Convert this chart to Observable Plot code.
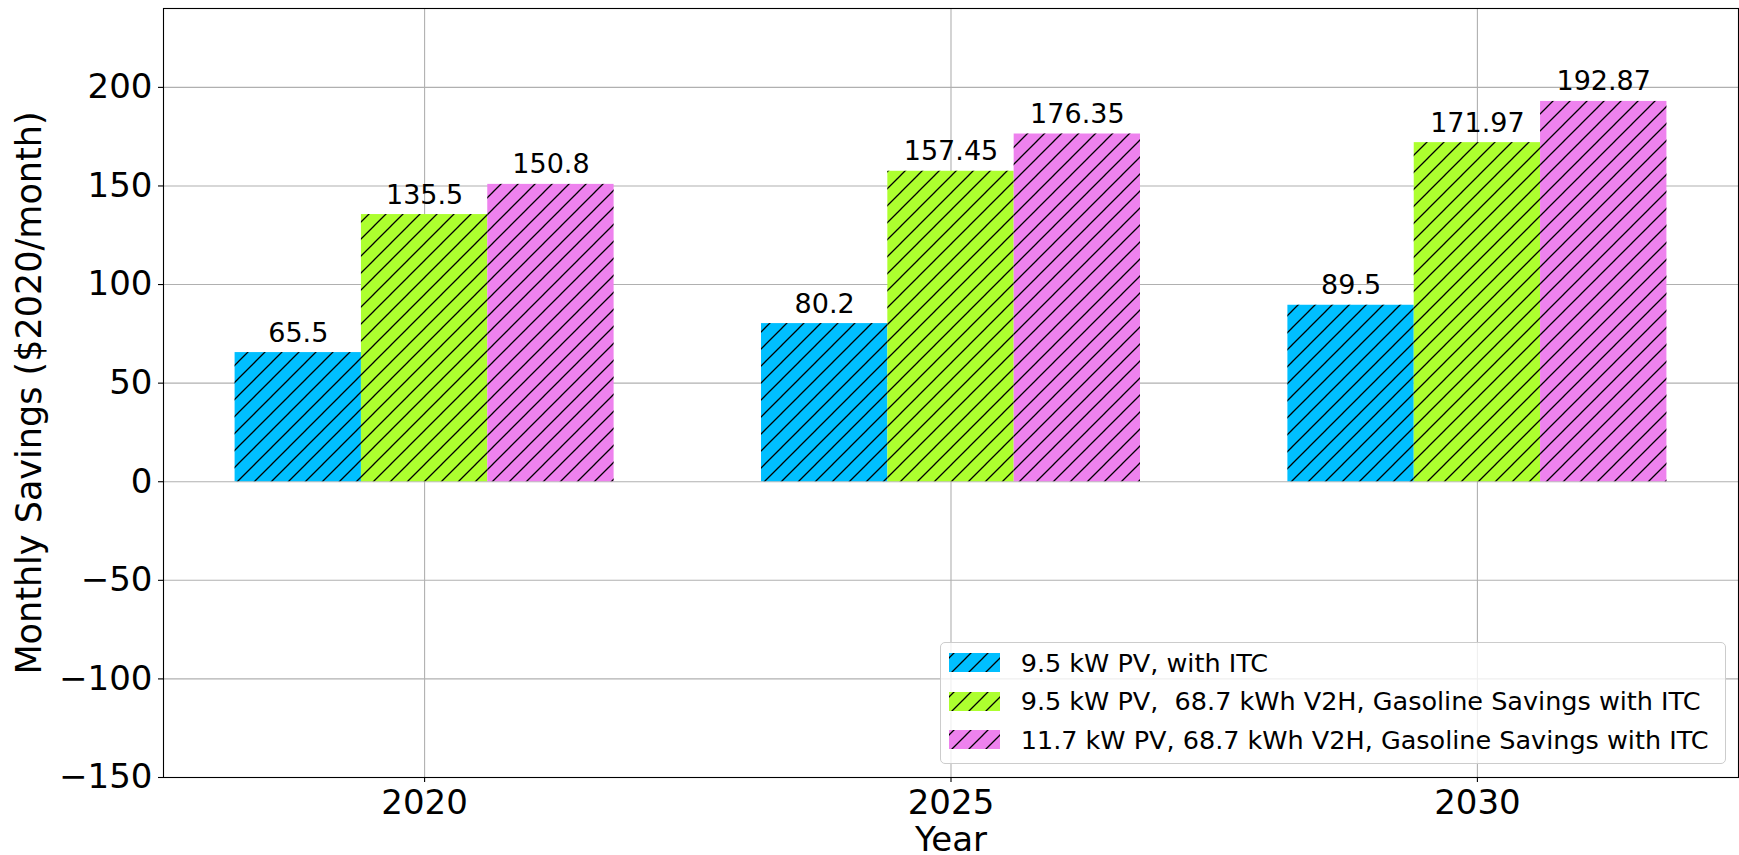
<!DOCTYPE html>
<html><head><meta charset="utf-8">
<script src="https://cdn.jsdelivr.net/npm/d3@7"></script>
<script src="https://cdn.jsdelivr.net/npm/@observablehq/plot@0.6"></script>
<style>
html,body{margin:0;padding:0;background:#fff;}
#wrap{position:relative;width:1739px;height:855px;font-family:"DejaVu Sans",sans-serif;}
#legend{position:absolute;left:940px;top:641.7px;width:786px;height:122.3px;box-sizing:border-box;border:1px solid #cccccc;border-radius:5px;background:rgba(255,255,255,0.8);}
.row{position:absolute;left:8px;height:19px;display:flex;align-items:center;white-space:pre;font-size:25.5px;color:#000;line-height:1;}
.row svg{flex:none;margin-right:20.7px;}
.row span{position:relative;top:1px;}
</style></head><body><div id="wrap"></div>
<script>
const years = ["2020", "2025", "2030"];
const seriesNames = [
  "9.5 kW PV, with ITC",
  "9.5 kW PV,  68.7 kWh V2H, Gasoline Savings with ITC",
  "11.7 kW PV, 68.7 kWh V2H, Gasoline Savings with ITC"
];
const seriesColors = ["#00bfff", "#adff2f", "#ee82ee"];
const pvITC = [65.5, 80.2, 89.5];
const pvV2H = [135.5, 157.45, 171.97];
const pv117V2H = [150.8, 176.35, 192.87];
const yTicks = [-150, -100, -50, 0, 50, 100, 150, 200];
const yDomain = [-150, 240];
const xDomain = [-0.496, 2.496];
const barWidth = 0.24;

const seriesValues = [pvITC, pvV2H, pv117V2H];
const data = [];
years.forEach((yr, i) => seriesValues.forEach((vals, j) =>
  data.push({year: yr, yi: i, series: seriesNames[j], sj: j, value: vals[i]})));
const yearIdx = years.map((_, i) => i);
const cx = d => d.yi + (d.sj - 1) * barWidth;

const chart = Plot.plot({
  width: 1739, height: 855,
  marginLeft: 163, marginRight: 1, marginTop: 8, marginBottom: 78,
  style: {fontFamily: '"DejaVu Sans", sans-serif', color: "#000", background: "#fff", overflow: "visible"},
  x: {type: "linear", domain: xDomain},
  y: {domain: yDomain},
  color: {domain: seriesNames, range: seriesColors},
  marks: [
    Plot.gridY(yTicks, {stroke: "#b0b0b0", strokeOpacity: 1, strokeWidth: 1.1}),
    Plot.gridX(yearIdx, {stroke: "#b0b0b0", strokeOpacity: 1, strokeWidth: 1.1}),
    Plot.rect(data, {x1: d => cx(d) - barWidth / 2, x2: d => cx(d) + barWidth / 2, y1: 0, y2: "value", fill: "series"}),
    Plot.rect(data, {x1: d => cx(d) - barWidth / 2, x2: d => cx(d) + barWidth / 2, y1: 0, y2: "value", fill: "url(#hatch)"}),
    Plot.text(data, {x: cx, y: "value", text: d => String(d.value), lineAnchor: "middle", textAnchor: "middle", dy: -19.6, fontSize: 27, fill: "#000"}),
    Plot.axisX(yearIdx, {tickFormat: i => years[i], tickSize: 5, tickPadding: 7.5, fontSize: 34, label: null, strokeWidth: 1.1}),
    Plot.axisY(yTicks, {tickFormat: d3.format("d"), tickSize: 5, tickPadding: 6, fontSize: 34, label: null, strokeWidth: 1.1}),
    Plot.frame({stroke: "#000", strokeWidth: 1.1}),
    Plot.text(["Monthly Savings ($2020/month)"], {frameAnchor: "left", textAnchor: "middle", lineAnchor: "middle", dx: -134, rotate: -90, fontSize: 35, fill: "#000"}),
    Plot.text(["Year"], {frameAnchor: "bottom", textAnchor: "middle", lineAnchor: "middle", dy: 63, fontSize: 34, fill: "#000"})
  ]
});

const NS = "http://www.w3.org/2000/svg";
const defs = document.createElementNS(NS, "defs");
defs.innerHTML = '<pattern id="hatch" patternUnits="userSpaceOnUse" width="17" height="17" patternTransform="translate(0,5)"><path d="M-4.25,4.25L4.25,-4.25M0,17L17,0M12.75,21.25L21.25,12.75" stroke="#000" stroke-width="1.3" fill="none"/></pattern>';
chart.insertBefore(defs, chart.firstChild);

const wrap = document.getElementById("wrap");
wrap.appendChild(chart);

const legend = document.createElement("div");
legend.id = "legend";
const rowTops = [10.6, 49, 87.3];
seriesNames.forEach((name, j) => {
  const row = document.createElement("div");
  row.className = "row";
  row.style.top = rowTops[j] + "px";
  row.innerHTML = `<svg width="51" height="19"><rect width="51" height="19" fill="${seriesColors[j]}"/><rect width="51" height="19" fill="url(#hatch)"/></svg>`;
  const span = document.createElement("span");
  span.textContent = name;
  row.appendChild(span);
  legend.appendChild(row);
});
wrap.appendChild(legend);
</script></body></html>
